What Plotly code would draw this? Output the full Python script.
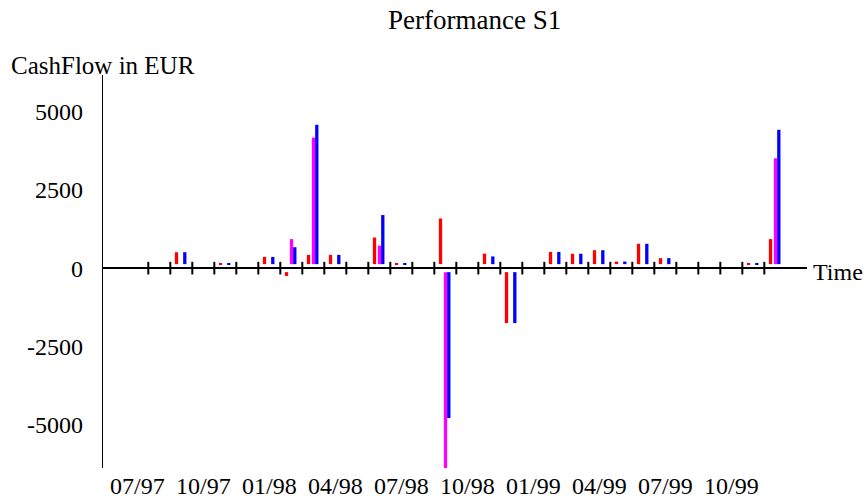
import plotly.graph_objects as go

# ---------------- data ----------------
months = ["07/97", "08/97", "09/97", "10/97", "11/97", "12/97",
          "01/98", "02/98", "03/98", "04/98", "05/98", "06/98",
          "07/98", "08/98", "09/98", "10/98", "11/98", "12/98",
          "01/99", "02/99", "03/99", "04/99", "05/99", "06/99",
          "07/99", "08/99", "09/99", "10/99", "11/99", "12/99"]

red_vals = [None, None, 510, None, 165, None,
            360, -250, 425, 425, None, 980,
            165, None, 1590, None, 465, -1760,
            None, 520, 460, 575, 210, 780,
            320, None, None, None, 165, 930]

magenta_vals = [None, None, None, None, None, None,
                None, 930, 4180, None, None, 720,
                None, None, -6400, None, None, None,
                None, None, None, None, None, None,
                None, None, None, None, None, 3520]

blue_vals = [None, None, 510, None, 165, None,
             360, 670, 4590, 425, None, 1700,
             165, None, -4800, None, 375, -1760,
             None, 520, 460, 575, 210, 780,
             320, None, None, None, 165, 4430]

ytick_vals = [5000, 2500, 0, -2500, -5000]
ytick_text = ["5000", "2500", "0", "-2500", "-5000"]
label_step = 3

# ---------------- style ----------------
W, H = 868, 499
# plot area in window pixels: x 103..807, y 75..468
ML = 103
MR = W - 807
MT = 75
MB = H - 468
FONT = "Liberation Serif, Times New Roman, serif"
GAP = 128  # visual gap between zero line and bar base (in value units)
BAR_W = 0.15

idx = list(range(len(months)))


def split(vals):
    base, length = [], []
    for v in vals:
        if v is None:
            base.append(None)
            length.append(None)
        else:
            b = GAP if v > 0 else -GAP
            base.append(b)
            length.append(v - b)
    return base, length


fig = go.Figure()
for vals, color, off in [(red_vals, "#ff0000", -0.293),
                         (magenta_vals, "#ff00ff", -0.066),
                         (blue_vals, "#0000ff", 0.084)]:
    b, l = split(vals)
    fig.add_trace(go.Bar(x=idx, y=l, base=b, width=BAR_W, offset=off,
                         marker=dict(color=color, line=dict(width=0)),
                         showlegend=False, hoverinfo="skip"))

# month boundary ticks on the zero line
bx = [i + 0.5 for i in idx[:-1]]
fig.add_trace(go.Scatter(x=bx, y=[0] * len(bx), mode="markers",
                         marker=dict(symbol="line-ns", size=9,
                                     line=dict(color="black", width=2)),
                         showlegend=False, hoverinfo="skip"))

plot_h = H - MT - MB
plot_w = W - ML - MR


def px(xp):
    return (xp - ML) / plot_w


def py(yp):
    return (H - MB - yp) / plot_h


fig.update_layout(
    template="none",
    width=W, height=H,
    margin=dict(l=ML, r=MR, t=MT, b=MB, pad=0, autoexpand=False),
    paper_bgcolor="white", plot_bgcolor="white",
    font=dict(family=FONT, color="black", size=24),
    barmode="overlay",
    xaxis=dict(range=[-1.559, 30.44], showgrid=False, zeroline=False,
               showline=False, ticks="", automargin=False,
               tickmode="array", tickvals=idx[::label_step],
               ticktext=months[::label_step], ticklabelstandoff=1,
               tickfont=dict(size=24, family=FONT, color="black")),
    yaxis=dict(range=[-6400, 6185], showgrid=False, automargin=False,
               zeroline=True, zerolinecolor="black", zerolinewidth=2,
               showline=True, linecolor="black", linewidth=1.2,
               ticks="", tickmode="array", tickvals=ytick_vals,
               ticktext=ytick_text, ticklabelstandoff=14,
               tickfont=dict(size=24, family=FONT, color="black")),
    annotations=[
        dict(text="Performance S1", xref="paper", yref="paper",
             x=px(474), y=py(20), xanchor="center", yanchor="middle",
             showarrow=False, font=dict(size=27, family=FONT, color="black")),
        dict(text="CashFlow in EUR", xref="paper", yref="paper",
             x=px(9), y=py(65), xanchor="left", yanchor="middle",
             showarrow=False, font=dict(size=25, family=FONT, color="black")),
        dict(text="Time", xref="paper", yref="paper",
             x=px(811), y=py(272), xanchor="left", yanchor="middle",
             showarrow=False, font=dict(size=24, family=FONT, color="black")),
    ],
)

page_css = ("document.documentElement.style.margin='0';"
            "document.documentElement.style.overflow='hidden';"
            "document.body.style.margin='0';"
            "document.body.style.overflow='hidden';")

fig.write_html("out.html", post_script=page_css,
               config={"displayModeBar": False})
